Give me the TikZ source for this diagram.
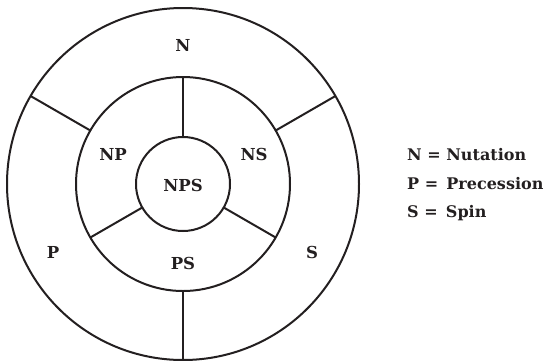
\documentclass[tikz,border=0pt]{standalone}
\usepackage{fontspec}
\setmainfont{DejaVu Serif}
\definecolor{ink}{HTML}{231F20}
\begin{document}
\begin{tikzpicture}[x=1pt,y=-1pt,
  ring/.style={circle,draw=ink,line width=2pt,inner sep=0pt,outer sep=0pt},
  lbl/.style={text=ink,font=\fontsize{16.5}{19}\selectfont\bfseries,inner sep=0pt},
  leg/.style={text=ink,font=\fontsize{16}{19}\selectfont\bfseries,inner sep=0pt,anchor=west},
  sep/.style={draw=ink,line width=2pt}]
\useasboundingbox (0,0) rectangle (554,360);
\node[ring,minimum size=352pt] (outer) at (183,184) {};
\node[ring,minimum size=214pt] (mid) at (183,184) {};
\node[ring,minimum size=94pt] (inner) at (183,184) {};
\draw[sep] (mid.90) -- (inner.90);
\draw[sep] (inner.210) -- (mid.210);
\draw[sep] (inner.330) -- (mid.330);
\draw[sep] (outer.150) -- (mid.150);
\draw[sep] (outer.30) -- (mid.30);
\draw[sep] (mid.270) -- (outer.270);
\node[lbl] (n) at (183,45) {N};
\node[lbl] (np) at (113,154) {NP};
\node[lbl] (ns) at (254,154) {NS};
\node[lbl] (nps) at (183,185) {NPS};
\node[lbl] (p) at (53,252) {P};
\node[lbl] (s) at (312,252) {S};
\node[lbl] (ps) at (183,263) {PS};
\node[leg] (l1) at (407,155) {N = Nutation};
\node[leg] (l2) at (407,184) {P = \,Precession};
\node[leg] (l3) at (407,213) {S = \,Spin};
\end{tikzpicture}
\end{document}
